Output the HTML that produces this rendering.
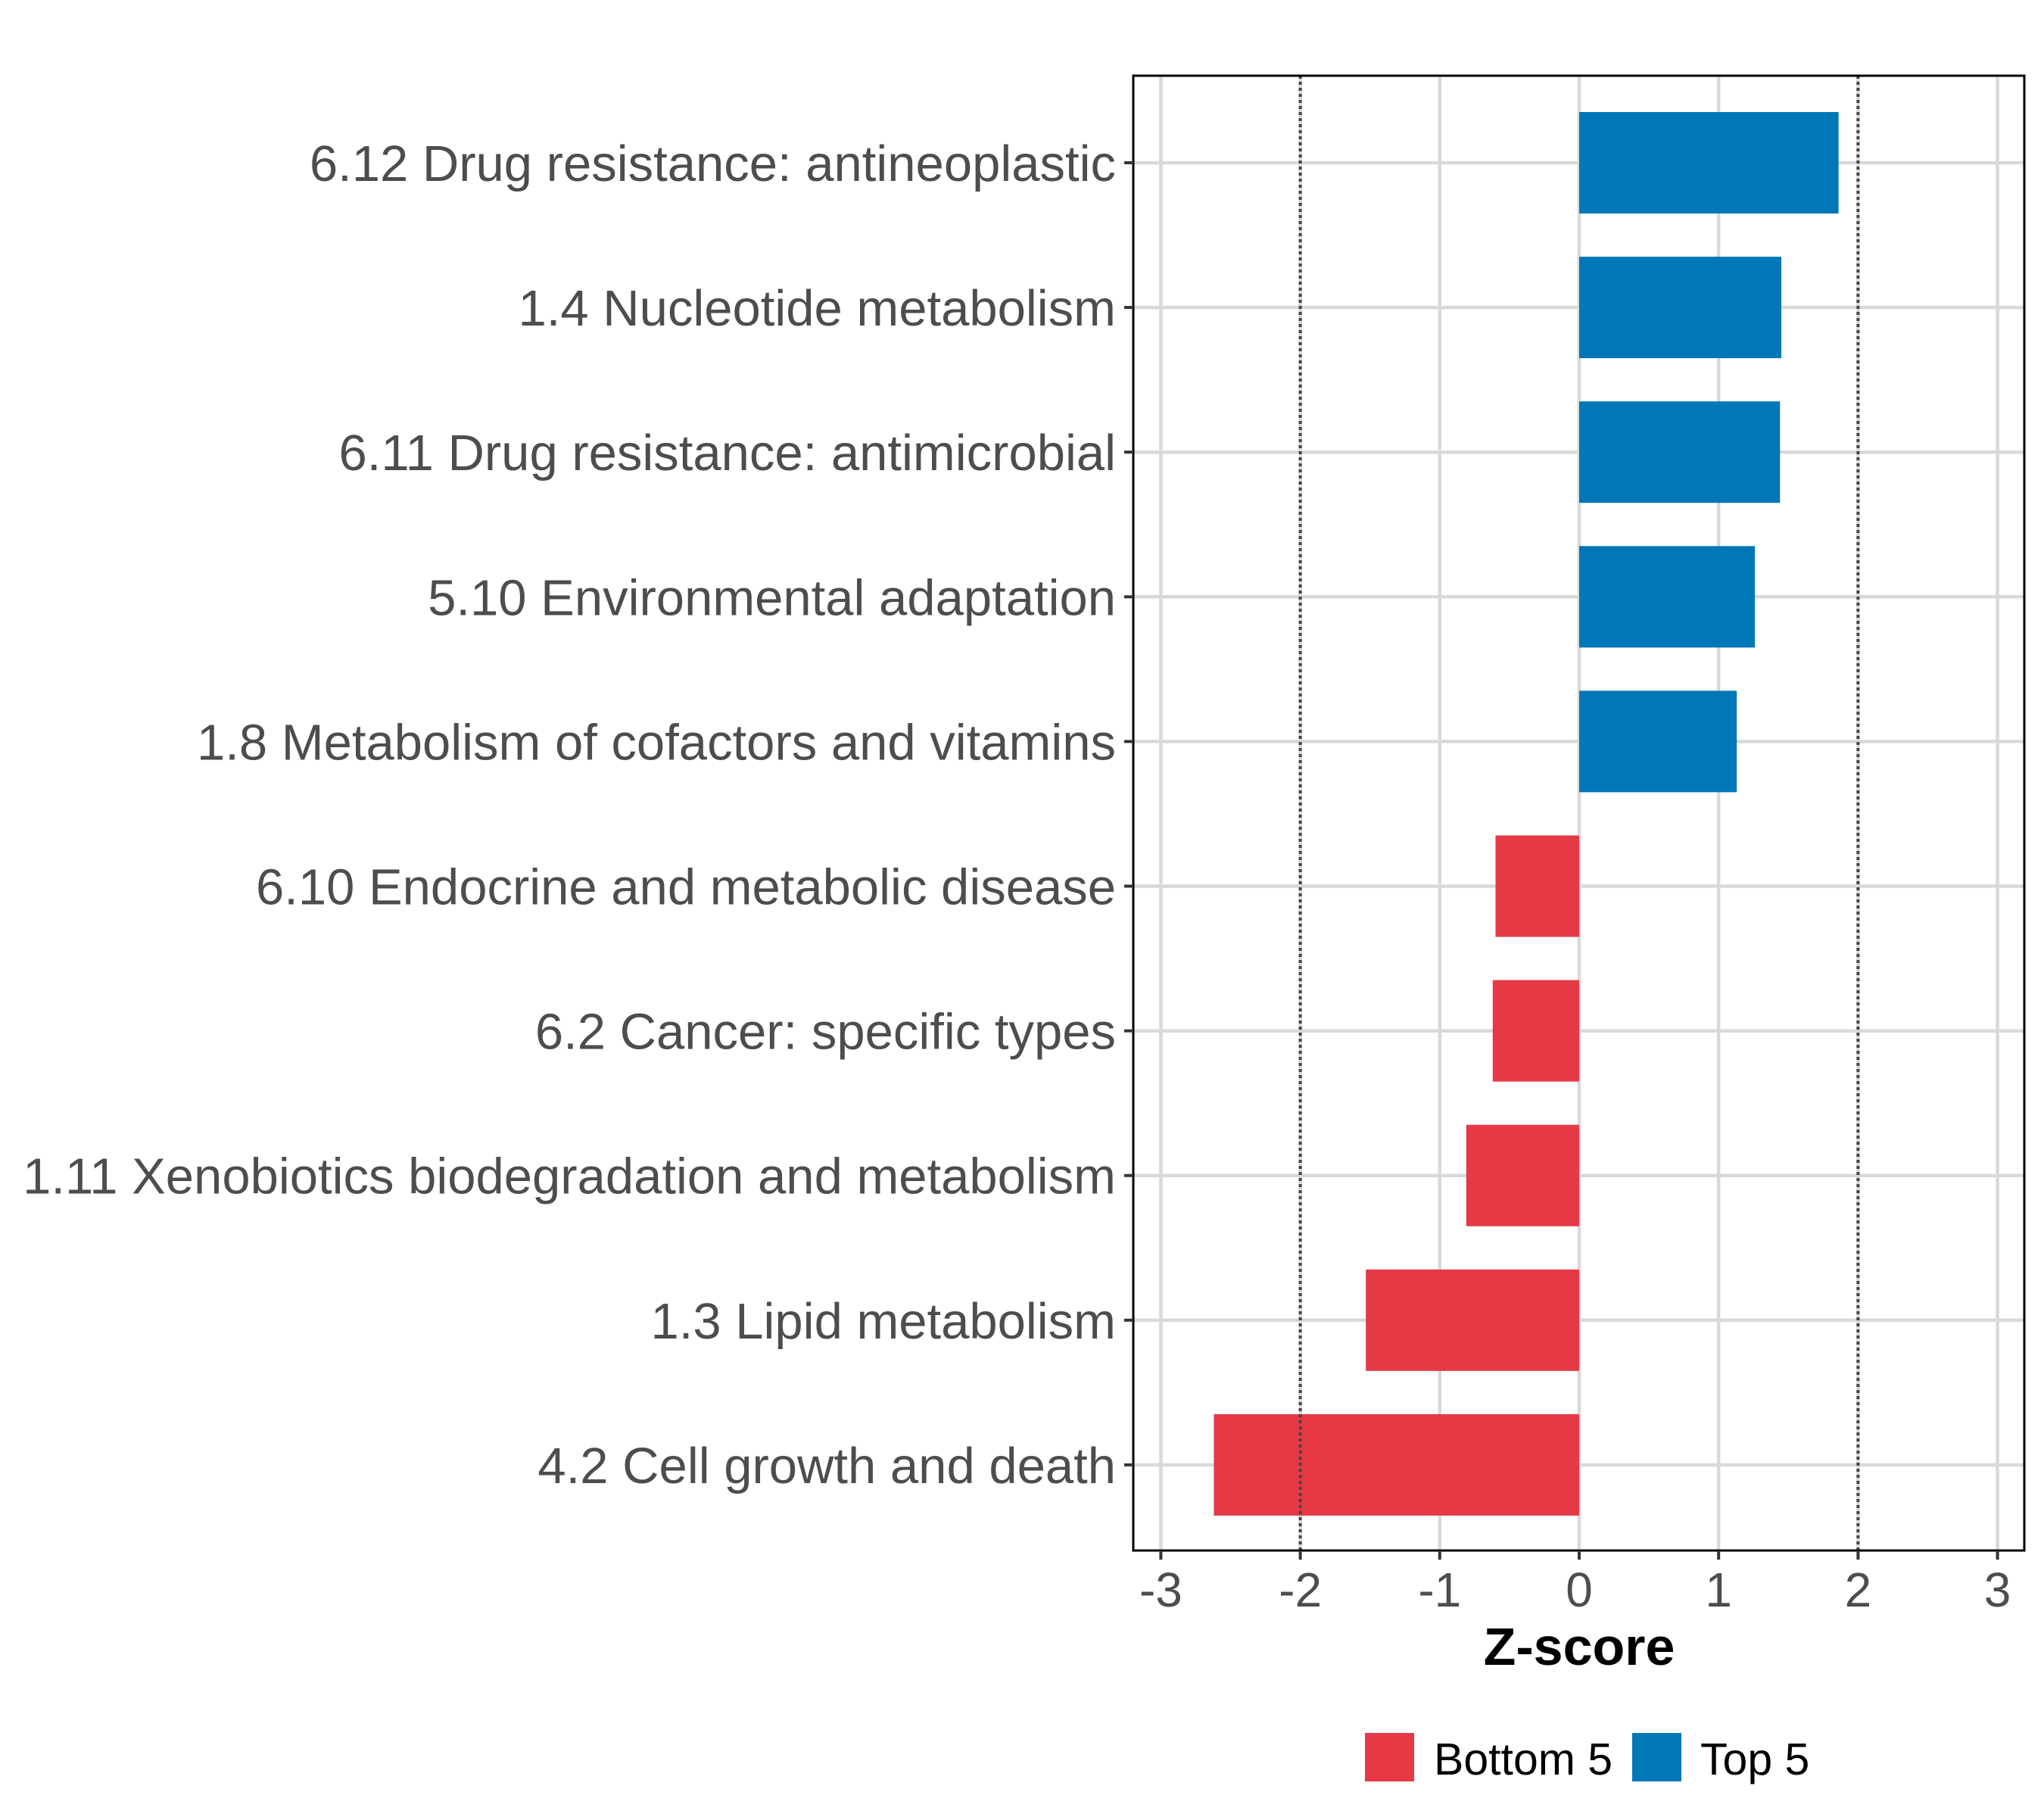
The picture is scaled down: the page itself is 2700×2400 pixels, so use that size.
<!DOCTYPE html>
<html><head><meta charset="utf-8"><style>
html,body{margin:0;padding:0;background:#fff}
svg{display:block}
text{font-family:"Liberation Sans",Arial,sans-serif}
</style></head><body>
<svg id="chart" width="2700" height="2400" viewBox="0 0 2700 2400" xmlns="http://www.w3.org/2000/svg">
<rect width="2700" height="2400" fill="#fff"/>
<g id="grid"></g>
<g id="bars"></g>
<g id="refs"></g>
<rect x="1497" y="100" width="1177" height="1948" fill="none" stroke="#000" stroke-width="3"/>
<g id="yaxis"></g>
<g id="xaxis"></g>
<text x="2086" y="2199" text-anchor="middle" font-size="70" font-weight="bold" fill="#000">Z-score</text>
<g>
<rect x="1803" y="2289" width="65" height="64" fill="#E63946"/>
<text x="1894" y="2344" font-size="59" fill="#000">Bottom 5</text>
<rect x="2156" y="2289" width="65" height="64" fill="#0077B6"/>
<text x="2246" y="2344" font-size="59" fill="#000">Top 5</text>
</g>
</svg>
<script>
const categories = ["6.12 Drug resistance: antineoplastic","1.4 Nucleotide metabolism","6.11 Drug resistance: antimicrobial","5.10 Environmental adaptation","1.8 Metabolism of cofactors and vitamins","6.10 Endocrine and metabolic disease","6.2 Cancer: specific types","1.11 Xenobiotics biodegradation and metabolism","1.3 Lipid metabolism","4.2 Cell growth and death"];
const values = [1.86, 1.45, 1.44, 1.26, 1.13, -0.60, -0.62, -0.81, -1.53, -2.62];
const groups = ["Top 5","Top 5","Top 5","Top 5","Top 5","Bottom 5","Bottom 5","Bottom 5","Bottom 5","Bottom 5"];
const xTicks = [-3,-2,-1,0,1,2,3];
const refLines = [-2, 2];

const NS="http://www.w3.org/2000/svg";
const x0=2086, unit=184.2, panelL=1497, panelR=2674, panelT=100, panelB=2048;
const rowTop=215, rowStep=191.1, barH=134;
function xs(v){return x0+v*unit;}
function ys(i){return rowTop+i*rowStep;}
function mk(tag,attrs,parent){const e=document.createElementNS(NS,tag);for(const k in attrs)e.setAttribute(k,attrs[k]);parent.appendChild(e);return e;}
const grid=document.getElementById('grid'),bars=document.getElementById('bars'),refs=document.getElementById('refs'),ya=document.getElementById('yaxis'),xa=document.getElementById('xaxis');
xTicks.forEach(t=>{
  const l=mk('line',{x1:xs(t),x2:xs(t),y1:panelT,y2:panelB,stroke:'#d9d9d9','stroke-width':4.5},grid);
  
  
  const tk=mk('line',{x1:xs(t),x2:xs(t),y1:panelB,y2:panelB+12,stroke:'#333','stroke-width':4},xa);
  
  
  const tx=mk('text',{x:xs(t),y:2122,'text-anchor':'middle','font-size':64,fill:'#4d4d4d'},xa);
  tx.textContent=String(t);
  
  
});
categories.forEach((c,i)=>{
  const y=ys(i);
  const l=mk('line',{x1:panelL,x2:panelR,y1:y,y2:y,stroke:'#d9d9d9','stroke-width':4.5},grid);
  
  
  const v=values[i];
  const b=mk('rect',{x:Math.min(xs(0),xs(v)),y:y-barH/2,width:Math.abs(xs(v)-xs(0)),height:barH,fill:groups[i]==='Top 5'?'#0077B6':'#E63946'},bars);
  
  
  const tk=mk('line',{x1:panelL-12,x2:panelL,y1:y,y2:y,stroke:'#333','stroke-width':4},ya);
  
  
  const tx=mk('text',{x:1474,y:y+24,'text-anchor':'end','font-size':67,fill:'#4d4d4d'},ya);
  tx.textContent=c;
  
  
});
refLines.forEach(r=>{
  const l=mk('line',{x1:xs(r),x2:xs(r),y1:panelT,y2:panelB,stroke:'#444','stroke-width':4,'stroke-dasharray':'4 4'},refs);
  
  
});
</script>
</body></html>
